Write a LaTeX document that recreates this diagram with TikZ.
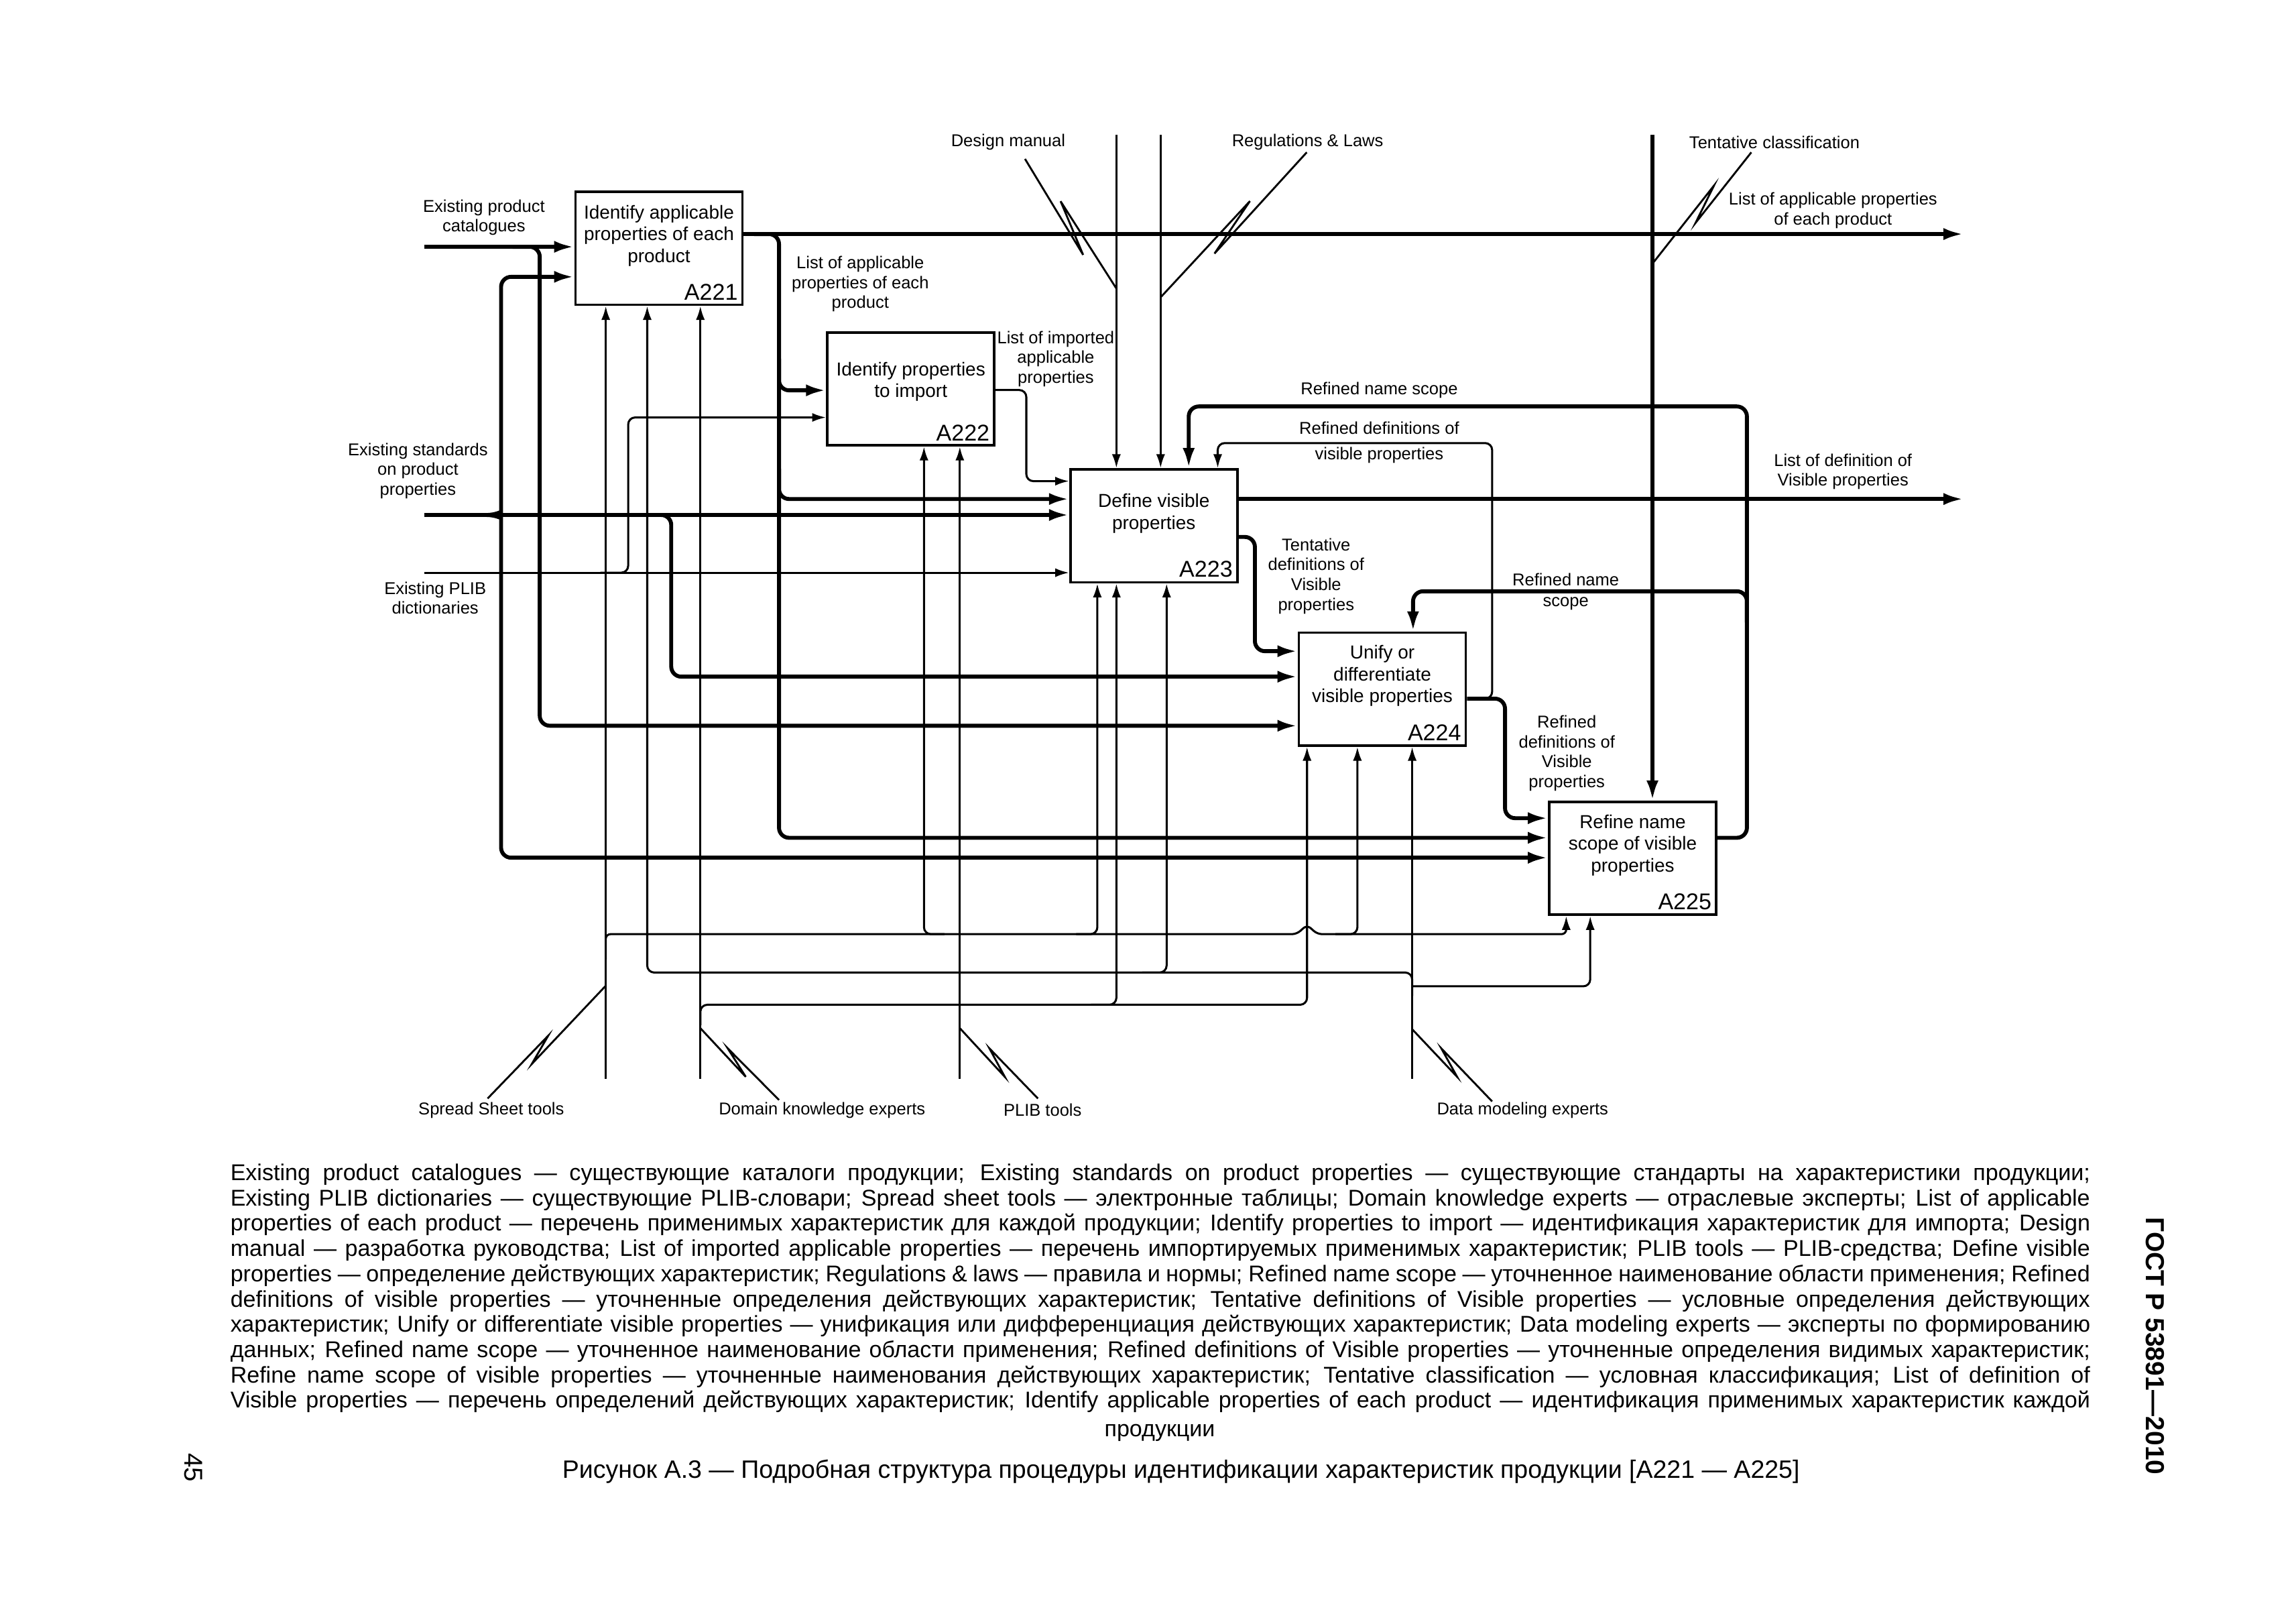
\documentclass[tikz,border=0pt]{standalone}
\usepackage{fontspec}
\setmainfont{Liberation Sans}
\usetikzlibrary{positioning}
\usetikzlibrary{calc}
\usetikzlibrary{arrows.meta}

\tikzset{
  func/.style={draw, line width=0.9pt, minimum width=21.6mm, minimum height=14.6mm, inner sep=0pt},
  ftext/.style={font=\fontsize{6.9}{8}\selectfont, align=center, inner sep=0pt},
  fid/.style={font=\fontsize{8.4}{9}\selectfont, inner sep=0.7mm, anchor=south east},
  lbl/.style={font=\fontsize{6.3}{7.3}\selectfont, align=center, inner sep=0pt},
  dataflow/.style={line width=1.45pt, rounded corners=1.3mm, -{Latex[length=2.6mm,width=1.55mm]}},
  support/.style={line width=0.75pt, rounded corners=0.9mm, -{Latex[length=1.8mm,width=1.15mm]}},
  leader/.style={line width=0.7pt},
  note/.style={font=\fontsize{8.4}{9}\selectfont, anchor=base west, inner sep=0pt},
}

\begin{document}
\begin{tikzpicture}[x=0.18941mm, y=-0.18941mm]
\useasboundingbox (0,0) rectangle (1568,1108.4);

% functions
\node[func](A221) at (450,169.5){};
\node[func](A222) at (622,265.5){};
\node[func](A223) at (788,359){};
\node[func](A224) at (944,470.5){};
\node[func](A225) at (1115,586){};
\node[ftext](tA221) at ($(A221.center)+(0,-8.5)$){Identify applicable\\properties of each\\product};
\node[ftext](tA222) at ($(A222.center)+(0,-5)$){Identify properties\\to import};
\node[ftext](tA223) at ($(A223.center)+(0,-8.5)$){Define visible\\properties};
\node[ftext](tA224) at ($(A224.center)+(0,-9)$){Unify or\\differentiate\\visible properties};
\node[ftext](tA225) at ($(A225.center)+(0,-9)$){Refine name\\scope of visible\\properties};
\node[fid](nA221) at (A221.south east){A221};
\node[fid](nA222) at (A222.south east){A222};
\node[fid](nA223) at (A223.south east){A223};
\node[fid](nA224) at (A224.south east){A224};
\node[fid](nA225) at (A225.south east){A225};

% free ends
\coordinate (startCat) at (289.6,168.5);
\coordinate (startStd) at (289.6,351.6);
\coordinate (startDic) at (289.6,391);
\coordinate (endApp) at (1341,159.8);
\coordinate (endDef) at (1341,340.7);
\coordinate (topDM) at (762.4,92);
\coordinate (topRL) at (792.6,92);
\coordinate (topTC) at (1128.5,92);
\coordinate (botSS) at (413.7,736.7);
\coordinate (botDK) at (478.3,736.7);
\coordinate (botPT) at (655.5,736.7);
\coordinate (botDME) at (964.4,736.7);

% labels
\node[lbl](labDM) at (688.5,96.9){Design manual};
\node[lbl](labRL) at (893,96.9){Regulations \& Laws};
\node[lbl](labTC) at (1211.8,97){Tentative classification};
\node[lbl](labApp) at (1251.8,143.8){List of applicable properties\\of each product};
\node[lbl](labCat) at (330.5,148.5){Existing product\\catalogues};
\node[lbl](labApp2) at (587.5,194){List of applicable\\properties of each\\product};
\node[lbl](labImp) at (721,245){List of imported\\applicable\\properties};
\node[lbl](labRNS) at (941.9,266.3){Refined name scope};
\node[lbl](labRDV) at (941.9,302.1){Refined definitions of\\[2.3pt]visible properties};
\node[lbl](labDef) at (1258.6,322){List of definition of\\Visible properties};
\node[lbl](labStd) at (285.4,321.4){Existing standards\\on product\\properties};
\node[lbl](labTD) at (898.8,393.3){Tentative\\definitions of\\Visible\\properties};
\node[lbl](labDic) at (297.2,408.3){Existing PLIB\\dictionaries};
\node[lbl](labRN1) at (1069.3,395.8){Refined name};
\node[lbl](labRN2) at (1069.3,412.1){scope};
\node[lbl](labRD) at (1070,514.3){Refined\\definitions of\\Visible\\properties};
\node[lbl](labSS) at (335.5,757.9){Spread Sheet tools};
\node[lbl](labDK) at (561.4,757.9){Domain knowledge experts};
\node[lbl](labPT) at (712,757.9){PLIB tools};
\node[lbl](labDME) at (1039.8,757.9){Data modeling experts};

% inputs
\draw[dataflow] (startCat) -- (A221.west |- startCat);
\draw[dataflow] (350,168.5) -- (368.6,168.5) -- (368.6,495.5) -- (A224.west |- 0,495.5);
\draw[dataflow] (startStd) -- (A223.west |- startStd);
\draw[dataflow] (332,351.6) .. controls (339,351.6) and (342.2,349) .. (342.2,343) -- (342.2,189) -- (A221.west |- 0,189);
\draw[dataflow] (332,351.6) .. controls (339,351.6) and (342.2,354.2) .. (342.2,360.2) -- (342.2,585.6) -- (A225.west |- 0,585.6);
\draw[dataflow] (440,351.6) -- (458.4,351.6) -- (458.4,462) -- (A224.west |- 0,462);
\draw[support] (startDic) -- (A223.west |- startDic);
\draw[support] (410,391) -- (429,391) -- (429,285) -- (A222.west |- 0,285);

% outputs
\draw[dataflow] (A221.east |- 0,159.8) -- (endApp);
\draw[dataflow] (515,159.8) -- (532,159.8) -- (532,572) -- (A225.west |- 0,572);
\draw[dataflow] (532,245) -- (532,266.5) -- (A222.west |- 0,266.5);
\draw[dataflow] (532,320) -- (532,340.7) -- (A223.west |- 0,340.7);
\draw[support] (A222.east |- 0,266.3) -- (700.9,266.3) -- (700.9,328.5) -- (A223.west |- 0,328.5);
\draw[dataflow] (A223.east |- 0,340.7) -- (endDef);
\draw[dataflow] (A223.east |- 0,366.6) -- (857,366.6) -- (857,444.6) -- (A224.west |- 0,444.6);
\draw[dataflow] (A224.east |- 0,477) -- (1027.8,477) -- (1027.8,558.6) -- (A225.west |- 0,558.6);
\draw[support] (1005,477) -- (1019,477) -- (1019,302.5) -- (831.6,302.5) -- (A223.north -| 831.6,0);
\draw[dataflow] (A225.east |- 0,572) -- (1193,572) -- (1193,277.5) -- (811.8,277.5) -- (A223.north -| 811.8,0);
\draw[dataflow] (1193,425) -- (1193,403.7) -- (965,403.7) -- (A224.north -| 965,0);

% controls
\draw[support] (topDM) -- (A223.north -| topDM);
\draw[support] (topRL) -- (A223.north -| topRL);
\draw[dataflow] (topTC) -- (A225.north -| topTC);

% mechanisms
\draw[support] (botSS) -- (A221.south -| botSS);
\draw[support, rounded corners=0.6mm] (413.7,655) -- (413.7,637.8) -- (885.5,637.8) -- (892.6,631.5) -- (899.7,637.8) -- (1069.6,637.8) -- (A225.south -| 1069.6,0);
\draw[support] (645,637.8) -- (631,637.8) -- (A222.south -| 631,0);
\draw[support] (735,637.8) -- (749.4,637.8) -- (A223.south -| 749.4,0);
\draw[support] (912,637.8) -- (927,637.8) -- (A224.south -| 927,0);
\draw[support] (botDK) -- (A221.south -| botDK);
\draw[support] (478.3,700) -- (478.3,686) -- (892.6,686) -- (A224.south -| 892.6,0);
\draw[support] (745,686) -- (762.4,686) -- (A223.south -| 762.4,0);
\draw[support] (botPT) -- (A222.south -| botPT);
\draw[support] (botDME) -- (A224.south -| botDME);
\draw[support] (964.4,680) -- (964.4,664) -- (442,664) -- (A221.south -| 442,0);
\draw[support] (780,664) -- (796.7,664) -- (A223.south -| 796.7,0);
\draw[support] (964.4,673.4) -- (1086,673.4) -- (A225.south -| 1086,0);

% squiggles
\draw[leader] (700,108.5) -- (739.7,174) -- (724.3,137.4) -- (762.4,197);
\draw[leader] (892.4,104) -- (829.4,173.1) -- (853.6,137.3) -- (792.6,203);
\draw[leader] (1196,104) -- (1157.9,152.2) -- (1170.5,126.7) -- (1128.5,180);
\draw[leader] (333,750) -- (374.4,707.1) -- (363.2,726.4) -- (413.7,673);
\draw[leader] (532,751) -- (497,715.8) -- (509.3,735.2) -- (478.3,702);
\draw[leader] (708.8,750) -- (675.7,715.8) -- (686.2,735.2) -- (655.5,702);
\draw[leader] (1019,752) -- (984.3,715.8) -- (995.1,735.2) -- (964.4,702.7);

% legend
\node[note](note1) at (157,806){\makebox[240.55mm][s]{Existing product catalogues — существующие каталоги продукции; Existing standards on product properties — существующие стандарты на характеристики продукции;}};
\node[note](note2) at (157,823.25){\makebox[240.55mm][s]{Existing PLIB dictionaries — существующие PLIB-словари; Spread sheet tools — электронные таблицы; Domain knowledge experts — отраслевые эксперты; List of applicable}};
\node[note](note3) at (157,840.5){\makebox[240.55mm][s]{properties of each product — перечень применимых характеристик для каждой продукции; Identify properties to import — идентификация характеристик для импорта; Design}};
\node[note](note4) at (157,857.75){\makebox[240.55mm][s]{manual — разработка руководства; List of imported applicable properties — перечень импортируемых применимых характеристик; PLIB tools — PLIB-средства; Define visible}};
\node[note](note5) at (157,875){\makebox[240.55mm][s]{properties — определение действующих характеристик; Regulations \& laws — правила и нормы; Refined name scope — уточненное наименование области применения; Refined}};
\node[note](note6) at (157,892.25){\makebox[240.55mm][s]{definitions of visible properties — уточненные определения действующих характеристик; Tentative definitions of Visible properties — условные определения действующих}};
\node[note](note7) at (157,909.5){\makebox[240.55mm][s]{характеристик; Unify or differentiate visible properties — унификация или дифференциация действующих характеристик; Data modeling experts — эксперты по формированию}};
\node[note](note8) at (157,926.75){\makebox[240.55mm][s]{данных; Refined name scope — уточненное наименование области применения; Refined definitions of Visible properties — уточненные определения видимых характеристик;}};
\node[note](note9) at (157,944){\makebox[240.55mm][s]{Refine name scope of visible properties — уточненные наименования действующих характеристик; Tentative classification — условная классификация; List of definition of}};
\node[note](note10) at (157,961.25){\makebox[240.55mm][s]{Visible properties — перечень определений действующих характеристик; Identify applicable properties of each product — идентификация применимых характеристик каждой}};
\node[note, anchor=base](note11) at (792,981){продукции};

\node[font=\fontsize{9.25}{11}\selectfont, anchor=base, inner sep=0pt](caption) at (806.5,1009){Рисунок А.3 — Подробная структура процедуры идентификации характеристик продукции [А221 — А225]};
\node[font=\bfseries\fontsize{9.6}{11}\selectfont, rotate=-90, inner sep=0pt](gost) at (1472,919){ГОСТ Р 53891—2010};
\node[font=\fontsize{9.5}{11}\selectfont, rotate=-90, inner sep=0pt](page) at (132,1002){45};
\end{tikzpicture}
\end{document}
